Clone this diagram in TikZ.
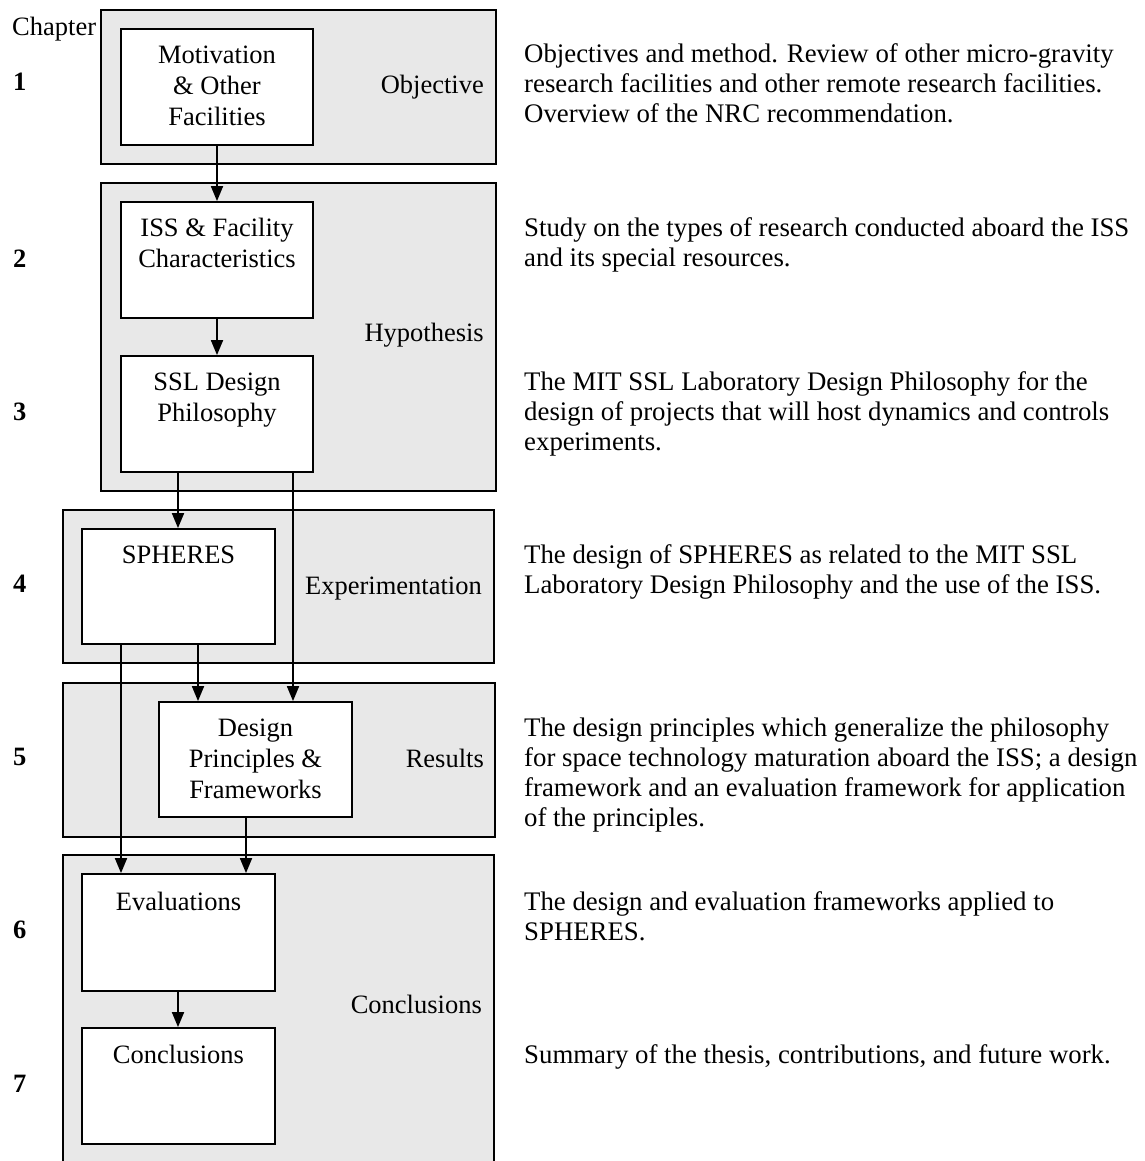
\documentclass[tikz,border=0pt]{standalone}
\usepackage{fontspec}
\setmainfont{Liberation Serif}
\usetikzlibrary{arrows.meta}
\definecolor{panelgray}{RGB}{232,232,232}
\newcommand\fstrut{\rule{0pt}{22pt}}
\begin{document}
\begin{tikzpicture}[x=1pt,y=-1pt,
  panel/.style={draw=black, line width=1.8pt, fill=panelgray},
  stagebox/.style={draw=black, line width=1.8pt, fill=white, minimum width=192pt, minimum height=116pt, inner sep=0pt},
  txt/.style={inner sep=0pt, font=\fontsize{26.5}{31}\selectfont},
  boxtxt/.style={txt, anchor=north, align=center},
  desc/.style={inner sep=0pt, font=\fontsize{26.8}{30}\selectfont, anchor=north west, align=left},
  lbl/.style={txt, anchor=base east},
  num/.style={inner sep=0pt, anchor=base west, font=\fontsize{26.5}{31}\selectfont\bfseries},
  arr/.style={line width=1.8pt, -{Triangle[length=15pt,width=12pt]}}
]
\useasboundingbox (0,0) rectangle (1144,1161);

% panels
\draw[panel] (101,10) rectangle (496,164);
\draw[panel] (101,183) rectangle (496,491);
\draw[panel] (63,510) rectangle (494,663);
\draw[panel] (63,683) rectangle (495,837);
\fill[panelgray] (63,855) rectangle (494,1161);
\draw[line width=1.8pt] (63,1161) -- (63,855) -- (494,855) -- (494,1161);

% stage boxes
\node[stagebox] (mot) at (217,87) {};
\node[stagebox] (iss) at (217,260) {};
\node[stagebox] (ssl) at (217,414) {};
\node[stagebox, minimum width=193pt, minimum height=115pt] (sph) at (178.5,586.5) {};
\node[stagebox, minimum width=193pt, minimum height=115pt] (dpf) at (255.5,759.5) {};
\node[stagebox, minimum width=193pt, minimum height=117pt] (eva) at (178.5,932.5) {};
\node[stagebox, minimum width=193pt] (con) at (178.5,1086) {};

% box texts
\node[boxtxt] at (217,41) {\fstrut Motivation\\\& Other\\Facilities};
\node[boxtxt] at (217,214) {\fstrut ISS \& Facility\\Characteristics};
\node[boxtxt] at (217,368) {\fstrut SSL Design\\Philosophy};
\node[boxtxt] at (178.5,541) {\fstrut SPHERES};
\node[boxtxt] at (255.5,714) {\fstrut Design\\Principles \&\\Frameworks};
\node[boxtxt] at (178.5,888) {\fstrut Evaluations};
\node[boxtxt] at (178.5,1041) {\fstrut Conclusions};

% panel labels
\node[lbl] at (484,94) {Objective};
\node[lbl] at (484,341) {Hypothesis};
\node[lbl] at (482,594) {Experimentation};
\node[lbl] at (484,767) {Results};
\node[lbl] at (482,1013) {Conclusions};

% chapter numbers
\node[txt, anchor=base west] at (12,36) {Chapter};
\node[num] at (13,91) {1};
\node[num] at (13,267) {2};
\node[num] at (13,420) {3};
\node[num] at (13,592) {4};
\node[num] at (13,765) {5};
\node[num] at (13,938) {6};
\node[num] at (13,1092) {7};

% descriptions
\node[desc] at (524,40) {\fstrut Objectives and method. Review of other micro-gravity\\research facilities and other remote research facilities.\\Overview of the NRC recommendation.};
\node[desc] at (524,214) {\fstrut Study on the types of research conducted aboard the ISS\\and its special resources.};
\node[desc] at (524,368) {\fstrut The MIT SSL Laboratory Design Philosophy for the\\design of projects that will host dynamics and controls\\experiments.};
\node[desc] at (524,541) {\fstrut The design of SPHERES as related to the MIT SSL\\Laboratory Design Philosophy and the use of the ISS.};
\node[desc] at (524,714) {\fstrut The design principles which generalize the philosophy\\for space technology maturation aboard the ISS; a design\\framework and an evaluation framework for application\\of the principles.};
\node[desc] at (524,888) {\fstrut The design and evaluation frameworks applied to\\SPHERES.};
\node[desc] at (524,1041) {\fstrut Summary of the thesis, contributions, and future work.};

% connector columns
\coordinate (colA) at (293,0);
\coordinate (colB) at (198,0);
\coordinate (colC) at (121,0);
\coordinate (colD) at (246,0);
\coordinate (colE) at (178,0);

% connectors
\draw[arr] (mot.south) -- (iss.north);
\draw[arr] (iss.south) -- (ssl.north);
\draw[arr] (ssl.south -| colE) -- (sph.north -| colE);
\draw[arr] (ssl.south -| colA) -- (dpf.north -| colA);
\draw[arr] (sph.south -| colB) -- (dpf.north -| colB);
\draw[arr] (sph.south -| colC) -- (eva.north -| colC);
\draw[arr] (dpf.south -| colD) -- (eva.north -| colD);
\draw[arr] (eva.south -| colE) -- (con.north -| colE);
\end{tikzpicture}
\end{document}
